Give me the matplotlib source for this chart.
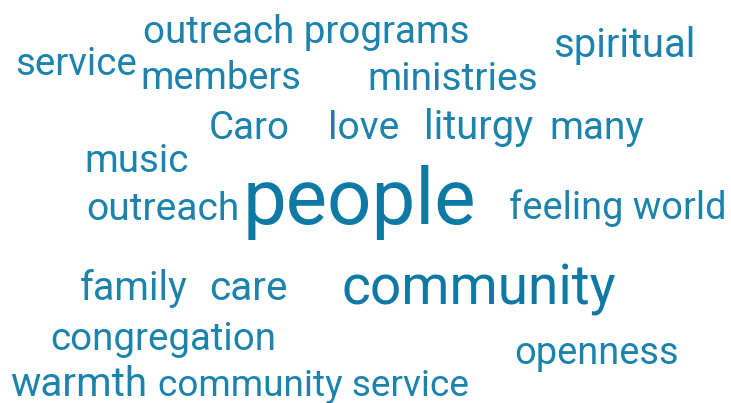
import matplotlib.pyplot as plt

# word cloud: words and their weights (rendered size in px)
words = ["outreach programs", "service", "spiritual", "members", "ministries",
         "Caro", "love", "liturgy", "many", "music", "outreach", "people",
         "feeling world", "family", "care", "community", "congregation",
         "openness", "warmth", "community service"]
weights = [38.5, 38.5, 40, 38, 39,
           38.5, 39, 40, 38.7, 38.5, 39, 78,
           38, 39.5, 40.5, 55, 38.5,
           38, 40.5, 37]

# layout of the cloud (left edge, baseline) in pixels
x_left = [143, 15, 553, 140, 367,
          209, 328, 424, 549, 84, 86, 243,
          509, 80, 209, 342, 50,
          514, 10, 158]
y_base = [43, 75, 57, 89, 90,
          139, 139, 139, 139, 172, 220, 224,
          219, 300, 300, 305, 350,
          364, 396, 396]

dark = "#0f79a5"
light = "#1c83ad"

fig = plt.figure(figsize=(7.31, 4.03), dpi=100)
ax = fig.add_axes([0, 0, 1, 1])
ax.set_xlim(0, 731)
ax.set_ylim(403, 0)
ax.axis("off")

for w, s, x, y in zip(words, weights, x_left, y_base):
    color = dark if s >= 50 else light
    ax.text(x, y, w, fontsize=s * 0.72, family="Roboto", color=color,
            ha="left", va="baseline")

fig.savefig("out.png", dpi=100)
